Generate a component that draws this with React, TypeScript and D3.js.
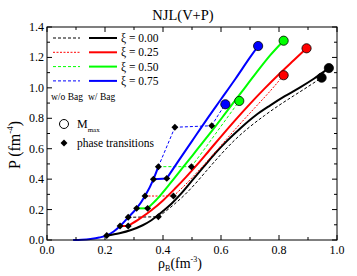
import React from 'react';
import * as d3 from 'd3';

const W = 357;
const H = 276;
const margin = { top: 27, right: 20, bottom: 36, left: 47 };

// axis ticks
const xMajor = [0, 0.2, 0.4, 0.6, 0.8, 1.0];
const xMinor = [0.1, 0.3, 0.5, 0.7, 0.9];
const yMajor = [0, 0.2, 0.4, 0.6, 0.8, 1.0, 1.2, 1.4];
const yMinor = [0.1, 0.3, 0.5, 0.7, 0.9, 1.1, 1.3];

// hadronic branch shared by all curves (rho_B, P)
const hadron = [[0.09, 0], [0.12, 0.002], [0.15, 0.007], [0.18, 0.016], [0.206, 0.03], [0.23, 0.056], [0.252, 0.092], [0.28, 0.149], [0.309, 0.208], [0.338, 0.289], [0.367, 0.399], [0.384, 0.482]];
const hadronHigh = [[0.384, 0.482], [0.41, 0.6], [0.441, 0.741]];

// xi = 0.00
const xi00Bag = [[0.206, 0.03], [0.25, 0.045], [0.29, 0.066], [0.33, 0.097], [0.36, 0.13], [0.4, 0.19], [0.43, 0.24], [0.46, 0.3], [0.5, 0.39], [0.54, 0.48], [0.58, 0.57], [0.62, 0.65], [0.67, 0.74], [0.72, 0.82], [0.77, 0.885], [0.82, 0.945], [0.87, 1.0], [0.92, 1.06], [0.972, 1.13]];
const xi00NoBagMix = [[0.28, 0.149], [0.384, 0.153]];
const xi00NoBag = [[0.384, 0.153], [0.41, 0.19], [0.44, 0.237], [0.47, 0.288], [0.51, 0.367], [0.55, 0.455], [0.6, 0.563], [0.65, 0.662], [0.7, 0.745], [0.75, 0.818], [0.8, 0.885], [0.85, 0.947], [0.9, 1.008], [0.947, 1.067]];

// xi = 0.25
const xi25BagMix = [[0.252, 0.092], [0.28, 0.092]];
const xi25Bag = [[0.28, 0.092], [0.32, 0.14], [0.36, 0.195], [0.4, 0.26], [0.44, 0.335], [0.48, 0.415], [0.52, 0.5], [0.56, 0.59], [0.6, 0.68], [0.65, 0.79], [0.7, 0.895], [0.75, 0.995], [0.8, 1.09], [0.85, 1.18], [0.895, 1.26]];
const xi25NoBagMix = [[0.338, 0.289], [0.436, 0.289]];
const xi25NoBag = [[0.436, 0.289], [0.47, 0.35], [0.52, 0.45], [0.57, 0.555], [0.62, 0.665], [0.67, 0.772], [0.72, 0.876], [0.77, 0.98], [0.816, 1.083]];

// xi = 0.50
const xi50BagMix = [[0.309, 0.208], [0.347, 0.208]];
const xi50Bag = [[0.347, 0.208], [0.38, 0.27], [0.424, 0.37], [0.47, 0.48], [0.52, 0.6], [0.57, 0.72], [0.62, 0.845], [0.67, 0.97], [0.72, 1.095], [0.77, 1.215], [0.816, 1.31]];
const xi50NoBagMix = [[0.384, 0.482], [0.498, 0.482]];
const xi50NoBag = [[0.498, 0.482], [0.54, 0.59], [0.58, 0.695], [0.62, 0.8], [0.663, 0.914]];

// xi = 0.75
const xi75BagMix = [[0.367, 0.399], [0.413, 0.405]];
const xi75Bag = [[0.413, 0.405], [0.45, 0.51], [0.5, 0.65], [0.55, 0.79], [0.6, 0.925], [0.65, 1.06], [0.7, 1.2], [0.728, 1.275]];
const xi75NoBagMix = [[0.441, 0.741], [0.568, 0.751]];
const xi75NoBag = [[0.568, 0.751], [0.59, 0.82], [0.615, 0.892]];

// maximum mass configurations
const mmaxPoints = [
  { x: 0.972, y: 1.13, c: '#000000' }, { x: 0.947, y: 1.067, c: '#000000' },
  { x: 0.895, y: 1.26, c: '#ff0000' }, { x: 0.816, y: 1.083, c: '#ff0000' },
  { x: 0.816, y: 1.31, c: '#00ff00' }, { x: 0.663, y: 0.914, c: '#00ff00' },
  { x: 0.728, y: 1.275, c: '#0000ff' }, { x: 0.615, y: 0.892, c: '#0000ff' },
];

// phase transition onsets / ends
const transitions = [[0.206, 0.03], [0.252, 0.092], [0.28, 0.092], [0.28, 0.149], [0.384, 0.153], [0.309, 0.208], [0.347, 0.208], [0.338, 0.289], [0.436, 0.289], [0.367, 0.399], [0.413, 0.405], [0.384, 0.482], [0.498, 0.482], [0.441, 0.741], [0.568, 0.751]];

const legendLabels = ['ξ = 0.00', 'ξ = 0.25', 'ξ = 0.50', 'ξ = 0.75'];
const legendColors = ['#000000', '#ff0000', '#00ff00', '#0000ff'];

const FONT = '"Liberation Serif", "Times New Roman", serif';

export default function App() {
  const x = d3.scaleLinear().domain([0, 1]).range([margin.left, W - margin.right]);
  const y = d3.scaleLinear().domain([0, 1.4]).range([H - margin.bottom, margin.top]);
  const curve = d3.line<number[]>().x(d => x(d[0])).y(d => y(d[1])).curve(d3.curveMonotoneX);
  const straight = d3.line<number[]>().x(d => x(d[0])).y(d => y(d[1]));

  const solidW = 2;
  const dashW = 1;
  const dash = '3,2';

  const paths = [
    { d: curve(hadron), c: '#0000ff', w: solidW, dash: null },
    { d: curve(hadronHigh), c: '#0000ff', w: dashW, dash },
    { d: curve(xi00Bag), c: '#000000', w: solidW, dash: null },
    { d: straight(xi00NoBagMix), c: '#000000', w: dashW, dash },
    { d: curve(xi00NoBag), c: '#000000', w: dashW, dash },
    { d: straight(xi25BagMix), c: '#ff0000', w: solidW, dash: null },
    { d: curve(xi25Bag), c: '#ff0000', w: solidW, dash: null },
    { d: straight(xi25NoBagMix), c: '#ff0000', w: dashW, dash: '2,1.5' },
    { d: curve(xi25NoBag), c: '#ff0000', w: dashW, dash: '2,1.5' },
    { d: straight(xi50BagMix), c: '#00ff00', w: solidW, dash: null },
    { d: curve(xi50Bag), c: '#00ff00', w: solidW, dash: null },
    { d: straight(xi50NoBagMix), c: '#00ff00', w: dashW, dash },
    { d: curve(xi50NoBag), c: '#00ff00', w: dashW, dash },
    { d: straight(xi75BagMix), c: '#0000ff', w: solidW, dash: null },
    { d: curve(xi75Bag), c: '#0000ff', w: solidW, dash: null },
    { d: straight(xi75NoBagMix), c: '#0000ff', w: dashW, dash },
    { d: curve(xi75NoBag), c: '#0000ff', w: dashW, dash },
  ];

  const diamond = d3.symbol().type(d3.symbolSquare).size(24)();
  const x0 = margin.left, x1 = W - margin.right, y0 = H - margin.bottom, y1 = margin.top;

  return (
    <svg width={W} height={H} style={{ position: 'absolute', left: 0, top: 0, background: '#fff' }} fontFamily={FONT}>
      {/* title */}
      <text x={183} y={20} textAnchor="middle" fontSize={14.5}>NJL(V+P)</text>

      {/* curves */}
      {paths.map((p, i) => (
        <path key={i} d={p.d || ''} fill="none" stroke={p.c} strokeWidth={p.w} strokeDasharray={p.dash || undefined} />
      ))}

      {transitions.map((t, i) => (
        <path key={i} d={diamond || ''} transform={`translate(${x(t[0])},${y(t[1])}) rotate(45)`} fill="#000" />
      ))}

      {mmaxPoints.map((m, i) => (
        <circle key={i} cx={x(m.x)} cy={y(m.y)} r={4.6} fill={m.c} stroke="#000" strokeWidth={0.8} />
      ))}

      {/* frame */}
      <rect x={x0} y={y1} width={x1 - x0} height={y0 - y1} fill="none" stroke="#000" strokeWidth={1} />

      {/* ticks */}
      {xMajor.map(v => (
        <g key={'xm' + v}>
          <line x1={x(v)} x2={x(v)} y1={y0} y2={y0 - 5} stroke="#000" />
          <line x1={x(v)} x2={x(v)} y1={y1} y2={y1 + 5} stroke="#000" />
          <text x={x(v)} y={y0 + 14} textAnchor="middle" fontSize={12}>{v.toFixed(1)}</text>
        </g>
      ))}
      {xMinor.map(v => (
        <g key={'xn' + v}>
          <line x1={x(v)} x2={x(v)} y1={y0} y2={y0 - 3} stroke="#000" />
          <line x1={x(v)} x2={x(v)} y1={y1} y2={y1 + 3} stroke="#000" />
        </g>
      ))}
      {yMajor.map(v => (
        <g key={'ym' + v}>
          <line x1={x0} x2={x0 + 5} y1={y(v)} y2={y(v)} stroke="#000" />
          <line x1={x1} x2={x1 - 5} y1={y(v)} y2={y(v)} stroke="#000" />
          <text x={x0 - 3} y={y(v) + 4} textAnchor="end" fontSize={12}>{v.toFixed(1)}</text>
        </g>
      ))}
      {yMinor.map(v => (
        <g key={'yn' + v}>
          <line x1={x0} x2={x0 + 3} y1={y(v)} y2={y(v)} stroke="#000" />
          <line x1={x1} x2={x1 - 3} y1={y(v)} y2={y(v)} stroke="#000" />
        </g>
      ))}

      {/* axis labels */}
      <text x={180} y={268} textAnchor="middle" fontSize={14}>
        ρ<tspan fontSize={8} dy={3}>B</tspan><tspan dy={-3}>(fm</tspan><tspan fontSize={8} dy={-6}>-3</tspan><tspan dy={6}>)</tspan>
      </text>
      <text transform="translate(20,145) rotate(-90)" textAnchor="middle" fontSize={16}>
        P (fm<tspan fontSize={9} dy={-7}>-4</tspan><tspan dy={7}>)</tspan>
      </text>

      {/* legend */}
      {legendLabels.map((l, i) => {
        const ly = 38 + i * 14.3;
        return (
          <g key={l}>
            <line x1={53} x2={80} y1={ly} y2={ly} stroke={legendColors[i]} strokeWidth={1} strokeDasharray={i === 1 ? '2,1.5' : dash} />
            <line x1={89} x2={117} y1={ly} y2={ly} stroke={legendColors[i]} strokeWidth={2} />
            <text x={121} y={ly + 4} fontSize={11.5}>{l}</text>
          </g>
        );
      })}
      <text x={51} y={100} fontSize={9.5}>w/o Bag</text>
      <text x={88} y={100} fontSize={9.5}>w/ Bag</text>

      <circle cx={64} cy={124} r={4.5} fill="none" stroke="#000" strokeWidth={1} />
      <text x={77} y={128} fontSize={12}>M<tspan fontSize={7} dy={4}>max</tspan></text>
      <path d={diamond || ''} transform="translate(64,143) rotate(45)" fill="#000" />
      <text x={77} y={147} fontSize={11.5}>phase transitions</text>
    </svg>
  );
}
